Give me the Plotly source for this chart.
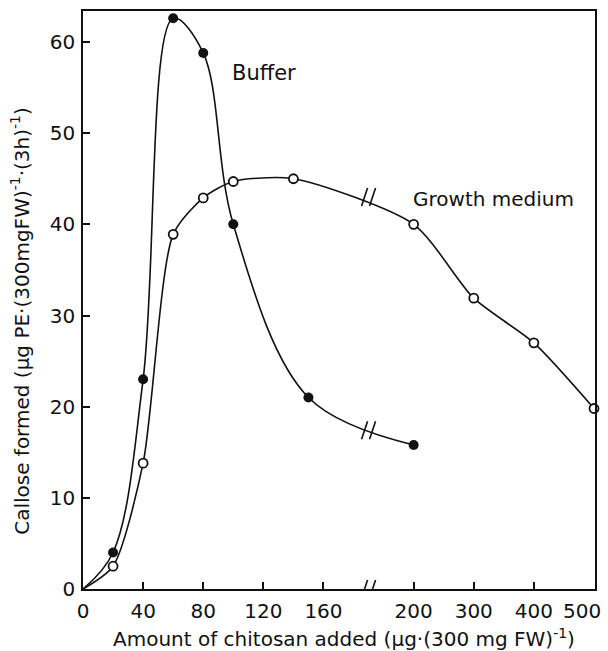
import plotly.graph_objects as go

# ---- data ----
buffer_x = [0, 20, 40, 60, 80, 100, 150, 200]
buffer_y = [0, 4.0, 23.0, 62.6, 58.8, 40.0, 21.0, 15.8]
growth_x = [0, 20, 40, 60, 80, 100, 140, 200, 300, 400, 500]
growth_y = [0, 2.5, 13.8, 38.9, 42.9, 44.7, 45.0, 40.0, 31.9, 27.0, 19.8]
x_tick_values = [0, 40, 80, 120, 160, 200, 300, 400, 500]
x_tick_labels = ["0", "40", "80", "120", "160", "200", "300", "400", "500"]
y_tick_values = [0, 10, 20, 30, 40, 50, 60]

# broken x-axis scale: 0-190 linear (1.5 units per ug), break, 200-500 linear (0.6 units per ug)
BREAK_U = 285


def brk(v):
    if v <= 190:
        return v * 1.5
    return 330 + (v - 200) * 0.6


FONT = "DejaVu Sans"
BLACK = "#111111"

fig = go.Figure()

fig.add_trace(go.Scatter(
    x=[brk(v) for v in growth_x], y=growth_y, mode="lines",
    line=dict(color=BLACK, width=1.6, shape="spline", smoothing=0.7),
    hoverinfo="skip", showlegend=False))
fig.add_trace(go.Scatter(
    x=[brk(v) for v in buffer_x], y=buffer_y, mode="lines",
    line=dict(color=BLACK, width=1.6, shape="spline", smoothing=1.0),
    hoverinfo="skip", showlegend=False))
fig.add_trace(go.Scatter(
    x=[brk(v) for v in growth_x[1:]], y=growth_y[1:], mode="markers",
    marker=dict(symbol="circle", size=9, color="white",
                line=dict(color=BLACK, width=1.8)),
    name="Growth medium", showlegend=False, cliponaxis=False))
fig.add_trace(go.Scatter(
    x=[brk(v) for v in buffer_x[1:]], y=buffer_y[1:], mode="markers",
    marker=dict(symbol="circle", size=10, color=BLACK,
                line=dict(color=BLACK, width=0)),
    name="Buffer", showlegend=False, cliponaxis=False))


# break marks "//" on axis and curves
def slashes(yval):
    out = []
    for dx in (-7, 1):
        out.append(dict(type="line", xref="x", yref="y",
                        xsizemode="pixel", xanchor=BREAK_U, x0=dx, x1=dx + 6,
                        ysizemode="pixel", yanchor=yval, y0=-9, y1=9,
                        line=dict(color=BLACK, width=1.6)))
    return out


shapes = slashes(0) + slashes(43.0) + slashes(17.4)

# the last label sits at the right edge of the frame; it is drawn right-aligned
tick_text = x_tick_labels[:-1] + [""]

fig.update_layout(
    width=608, height=651,
    margin=dict(l=83, r=13, t=11, b=62),
    paper_bgcolor="white", plot_bgcolor="white",
    font=dict(family=FONT, size=20, color=BLACK),
    shapes=shapes,
    xaxis=dict(
        range=[0, 511],
        tickvals=[brk(v) for v in x_tick_values],
        ticktext=tick_text,
        ticks="inside", ticklen=7, tickwidth=1.5, tickcolor=BLACK,
        showline=True, linecolor=BLACK, linewidth=1.6, mirror=True,
        showgrid=False, zeroline=False,
        tickfont=dict(family=FONT, size=20, color=BLACK),
        ticklabelstandoff=3, automargin=False,
    ),
    yaxis=dict(
        range=[0, 63.4],
        tickvals=y_tick_values,
        ticks="inside", ticklen=7, tickwidth=1.5, tickcolor=BLACK,
        showline=True, linecolor=BLACK, linewidth=1.6, mirror=True,
        showgrid=False, zeroline=False,
        tickfont=dict(family=FONT, size=20, color=BLACK),
        ticklabelstandoff=2, automargin=False,
    ),
    annotations=[
        dict(text=x_tick_labels[-1], x=brk(x_tick_values[-1]), y=0,
             xref="x", yref="paper", xanchor="right", yanchor="top",
             xshift=9, yshift=-8, showarrow=False,
             font=dict(family=FONT, size=20, color=BLACK)),
        dict(text="Buffer", x=181, y=56.6, xref="x", yref="y",
             showarrow=False, font=dict(family=FONT, size=21, color=BLACK)),
        dict(text="Growth medium", x=410, y=42.8, xref="x", yref="y",
             showarrow=False, font=dict(family=FONT, size=20, color=BLACK)),
        dict(text="Amount of chitosan added (µg·(300 mg FW)<sup>-1</sup>)",
             x=0.51, y=0, xref="paper", yref="paper", yshift=-49,
             xanchor="center", yanchor="middle", showarrow=False,
             font=dict(family=FONT, size=20, color=BLACK)),
        dict(text="Callose formed (µg PE·(300mgFW)<sup>-1</sup>·(3h)<sup>-1</sup>)",
             x=0, y=0.464, xref="paper", yref="paper", xshift=-63,
             xanchor="center", yanchor="middle", textangle=-90, showarrow=False,
             font=dict(family=FONT, size=20, color=BLACK)),
    ],
)

fig.write_html("out.html")
